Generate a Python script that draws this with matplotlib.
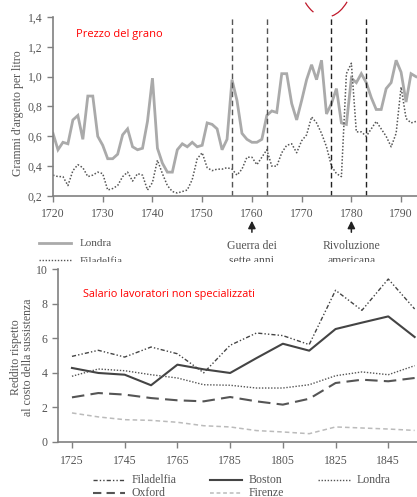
import matplotlib
matplotlib.use('Agg')
import matplotlib.pyplot as plt
from matplotlib.patches import Arc, Rectangle, FancyArrowPatch
from matplotlib.lines import Line2D

# --- dati: prezzo del grano (grammi d'argento per litro)
years_top = list(range(1720, 1794))
londra_grano = [0.62, 0.51, 0.56, 0.55, 0.71, 0.74, 0.58, 0.87, 0.87, 0.60,
                0.54, 0.45, 0.45, 0.48, 0.61, 0.65, 0.53, 0.51, 0.52, 0.70,
                0.99, 0.52, 0.42, 0.36, 0.36, 0.51, 0.55, 0.53, 0.56, 0.53,
                0.54, 0.69, 0.68, 0.65, 0.51, 0.58, 0.98, 0.84, 0.62, 0.58,
                0.56, 0.56, 0.58, 0.74, 0.77, 0.76, 1.02, 1.02, 0.82, 0.71,
                0.84, 0.98, 1.08, 0.98, 1.11, 0.75, 0.82, 0.92, 0.69, 0.68,
                0.99, 0.96, 1.02, 0.96, 0.86, 0.78, 0.78, 0.92, 0.96, 1.11,
                1.03, 0.83, 1.02, 1.00]
filadelfia_grano = [0.34, 0.33, 0.33, 0.27, 0.37, 0.41, 0.39, 0.33, 0.34, 0.36,
                    0.35, 0.24, 0.25, 0.27, 0.33, 0.36, 0.30, 0.35, 0.34, 0.24,
                    0.29, 0.44, 0.35, 0.27, 0.23, 0.22, 0.23, 0.24, 0.31, 0.45,
                    0.49, 0.39, 0.37, 0.38, 0.38, 0.39, 0.38, 0.34, 0.38, 0.46,
                    0.46, 0.41, 0.46, 0.51, 0.40, 0.40, 0.49, 0.54, 0.55, 0.49,
                    0.57, 0.61, 0.73, 0.69, 0.62, 0.53, 0.40, 0.35, 0.33, 1.02,
                    1.09, 0.63, 0.63, 0.60, 0.65, 0.70, 0.65, 0.60, 0.53, 0.62,
                    0.93, 0.72, 0.69, 0.70]
eventi_anni = [1756, 1763, 1776, 1783]
frecce_anni = [1760, 1780]
frecce_testi = ['Guerra dei\nsette anni', 'Rivoluzione\namericana']

# --- dati: salario lavoratori non specializzati
years_bot = [1725, 1735, 1745, 1755, 1765, 1775, 1785, 1795, 1805, 1815, 1825, 1835, 1845, 1855]
filadelfia = [4.95, 5.3, 4.91, 5.49, 5.1, 4.0, 5.59, 6.3, 6.15, 5.63, 8.77, 7.61, 9.42, 7.69]
boston = [4.28, 3.99, 3.89, 3.28, 4.47, 4.2, 3.99, 4.85, 5.68, 5.28, 6.53, 6.9, 7.26, 6.07]
londra = [3.8, 4.22, 4.12, 3.89, 3.7, 3.31, 3.28, 3.12, 3.12, 3.31, 3.83, 4.05, 3.89, 4.41]
oxford = [2.58, 2.83, 2.74, 2.54, 2.41, 2.35, 2.6, 2.35, 2.16, 2.5, 3.41, 3.6, 3.51, 3.7]
firenze = [1.68, 1.45, 1.29, 1.25, 1.14, 0.94, 0.87, 0.66, 0.58, 0.48, 0.87, 0.81, 0.75, 0.67]

W, H = 417, 497
plt.rcParams['font.family'] = ['Liberation Serif', 'DejaVu Serif']
fig = plt.figure(figsize=(W / 100, H / 100), dpi=100)
txt = '#555555'
spine = '#808080'


def fx(px):
    return px / W


def fy(py):
    return 1 - py / H


def style(ax):
    for s in ['top', 'right']:
        ax.spines[s].set_visible(False)
    for s in ['left', 'bottom']:
        ax.spines[s].set_color(spine)
        ax.spines[s].set_linewidth(1.2)
    ax.tick_params(colors=spine, labelcolor=txt, labelsize=8.5, length=4, width=1)
    ax.set_facecolor('none')


# ---------------- grafico superiore
ax1 = fig.add_axes([fx(53), fy(196), fx(417) - fx(53), fy(17) - fy(196)])
style(ax1)
ax1.plot(years_top, londra_grano, color='#aaaaaa', lw=2, solid_joinstyle='miter')
ax1.plot(years_top, filadelfia_grano, color='#555555', lw=1.1, ls=(0, (1, 1.2)))
for i, a in enumerate(eventi_anni):
    ax1.axvline(a, color='#555555' if i < 2 else '#222222', lw=1, ls=(0, (4, 2.5)))
ax1.set_xlim(1720, 1793.2)
ax1.set_ylim(0.2, 1.4)
ax1.set_xticks(range(1720, 1791, 10))
ax1.set_yticks([0.2, 0.4, 0.6, 0.8, 1.0, 1.2, 1.4])
ax1.set_yticklabels(['0,2', '0,4', '0,6', '0,8', '1,0', '1,2', '1,4'])
ax1.tick_params(axis='x', pad=5)
ax1.spines['left'].set_bounds(0.2, 1.4)
fig.text(fx(18), fy(113), "Grammi d'argento per litro", rotation=90, ha='center', va='center',
         fontsize=8.5, color=txt)
fig.text(fx(76), fy(34), 'Prezzo del grano', color='red', fontsize=8, family='Open Sans', va='center')

for a, t in zip(frecce_anni, frecce_testi):
    xa = fx(53 + (a - 1720) * (417 - 53) / 73.2)
    fig.add_artist(FancyArrowPatch((xa, fy(235)), (xa, fy(218)),
                   transform=fig.transFigure, arrowstyle='-|>', mutation_scale=11,
                   color='#222222', lw=1.1))
    fig.text(xa, fy(240), t, ha='center', va='top', fontsize=8.5, color=txt, linespacing=1.3)

fig.add_artist(Line2D([fx(39), fx(71)], [fy(243), fy(243)], color='#aaaaaa', lw=2))
fig.text(fx(80), fy(243), 'Londra', va='center', fontsize=8, color=txt)
fig.add_artist(Line2D([fx(39), fx(71)], [fy(260), fy(260)], color='#555555', lw=1, ls=(0, (1, 1.2))))
fig.text(fx(80), fy(262), 'Filadelfia', va='center', fontsize=8, color=txt)

# segno rosso a mano in alto
cx, cy = 326, -40
for t1, t2 in [(240, 254), (277, 301)]:
    fig.add_artist(Arc((fx(cx), fy(cy)), 62 / W, 114 / H, theta1=t1, theta2=t2,
                       transform=fig.transFigure, color='#c0182a', lw=0.9))

# striscia bianca che taglia il testo come nell'originale
fig.patches.append(Rectangle((0, 0), 1, fy(262), transform=fig.transFigure,
                             facecolor='white', edgecolor='none', zorder=3.5, figure=fig))

# ---------------- grafico inferiore
ax2 = fig.add_axes([fx(58), fy(442), fx(417) - fx(58), fy(269) - fy(442)])
ax2.set_zorder(4)
style(ax2)
ax2.plot(years_bot, filadelfia, color='#444444', lw=1, ls=(0, (3, 1.5, 1, 1.5, 1, 1.5)))
ax2.plot(years_bot, boston, color='#444444', lw=1.5)
ax2.plot(years_bot, londra, color='#555555', lw=1, ls=(0, (1, 1.2)))
ax2.plot(years_bot, oxford, color='#555555', lw=1.5, ls=(0, (6, 3)))
ax2.plot(years_bot, firenze, color='#bbbbbb', lw=1.1, ls=(0, (3, 2)))
ax2.set_xlim(1719.7, 1855.9)
ax2.set_ylim(0, 10)
ax2.set_xticks(range(1725, 1846, 20))
ax2.set_yticks(range(0, 11, 2))
ax2.tick_params(axis='x', pad=5)
ax2.spines['left'].set_bounds(0, 10)

fig.text(fx(22), fy(357), 'Reddito rispetto\nal costo della sussistenza', rotation=90,
         ha='center', va='center', fontsize=8.5, color=txt, linespacing=1.1, zorder=5)
fig.text(fx(83), fy(295), 'Salario lavoratori non specializzati', color='red', fontsize=7.8,
         family='Open Sans', va='center', zorder=5)

legenda = [
    (93, 480, 'Filadelfia', dict(color='#444444', lw=1, ls=(0, (3, 1.5, 1, 1.5, 1, 1.5)))),
    (210, 480, 'Boston', dict(color='#444444', lw=1.5)),
    (318, 480, 'Londra', dict(color='#555555', lw=1, ls=(0, (1, 1.2)))),
    (93, 493, 'Oxford', dict(color='#555555', lw=1.5, ls=(0, (4, 2.5)))),
    (210, 493, 'Firenze', dict(color='#bbbbbb', lw=1.1, ls=(0, (2.5, 1.8)))),
]
for x0, y0, name, kw in legenda:
    fig.add_artist(Line2D([fx(x0), fx(x0 + 32)], [fy(y0), fy(y0)], zorder=5, **kw))
    fig.text(fx(x0 + 39), fy(y0), name, va='center', fontsize=8.5, color=txt, zorder=5)

fig.savefig('out.png', dpi=100)
